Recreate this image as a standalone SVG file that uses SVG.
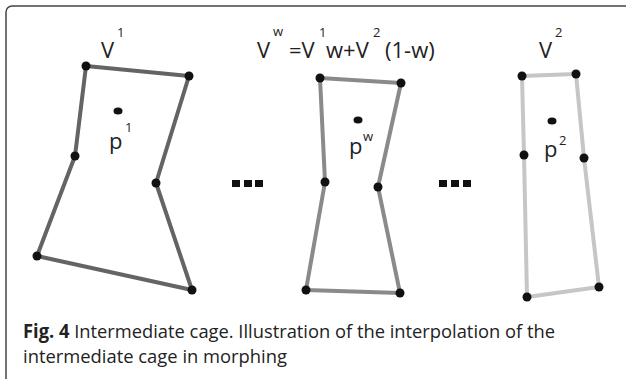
<svg xmlns="http://www.w3.org/2000/svg" width="626" height="379" viewBox="0 0 626 379">
<style>
.lbl{font-family:"Open Sans","Noto Sans",sans-serif;font-size:22px;fill:#222}
.sup{font-family:"Open Sans","Noto Sans",sans-serif;font-size:13px;fill:#222}
.v{fill:#111}
.c1{fill:none;stroke:#646464;stroke-width:4;stroke-linejoin:round}
.cw{fill:none;stroke:#8a8a8a;stroke-width:4;stroke-linejoin:round}
.c2{fill:none;stroke:#c6c6c6;stroke-width:4;stroke-linejoin:round}
.cap{font-family:"Open Sans","Noto Sans",sans-serif;font-size:19px;fill:#222}
</style>
<rect width="626" height="379" fill="#fff"/>
<path d="M6 379 V12 A6 6 0 0 1 12 6 H626" fill="none" stroke="#444" stroke-width="1.5"/>
<g id="connectors">
<polygon class="c1" points="86,66 189,76 156,183 192,290 37,256 75,156"/>
<polygon class="cw" points="320,78 401,83 378,187 400,293 306,290 325,182"/>
<polygon class="c2" points="522,76 576,74 584,158 599,287 527,297 524,155"/>
</g>
<g id="cage1">
<circle class="v" cx="86" cy="66" r="4.5"/>
<circle class="v" cx="189" cy="76" r="4.5"/>
<circle class="v" cx="156" cy="183" r="4.5"/>
<circle class="v" cx="192" cy="290" r="4.5"/>
<circle class="v" cx="37" cy="256" r="4.5"/>
<circle class="v" cx="75" cy="156" r="4.5"/>
<ellipse class="v" cx="118" cy="111" rx="4.5" ry="3.5"/>
<text class="lbl" x="101" y="58">V</text><text class="sup" x="117" y="37">1</text>
<text class="lbl" x="109" y="149">p</text><text class="sup" x="125" y="132">1</text>
</g>
<g id="cageW">
<circle class="v" cx="320" cy="78" r="4.5"/>
<circle class="v" cx="401" cy="83" r="4.5"/>
<circle class="v" cx="378" cy="187" r="4.5"/>
<circle class="v" cx="400" cy="293" r="4.5"/>
<circle class="v" cx="306" cy="290" r="4.5"/>
<circle class="v" cx="325" cy="182" r="4.5"/>
<ellipse class="v" cx="358" cy="120" rx="4.5" ry="3.5"/>
<text class="lbl" x="349" y="154">p</text><text class="sup" x="363" y="141">w</text>
<text class="lbl" x="257" y="58">V</text><text class="sup" x="273" y="36">w</text>
<text class="lbl" x="289" y="58">=V</text><text class="sup" x="319" y="37">1</text>
<text class="lbl" x="326" y="58">w+V</text><text class="sup" x="373" y="37">2</text>
<text class="lbl" x="385" y="58">(1-w)</text>
</g>
<g id="cage2">
<circle class="v" cx="522" cy="76" r="4.5"/>
<circle class="v" cx="576" cy="74" r="4.5"/>
<circle class="v" cx="584" cy="158" r="4.5"/>
<circle class="v" cx="599" cy="287" r="4.5"/>
<circle class="v" cx="527" cy="297" r="4.5"/>
<circle class="v" cx="524" cy="155" r="4.5"/>
<ellipse class="v" cx="552" cy="121" rx="4.5" ry="3.5"/>
<text class="lbl" x="539" y="58">V</text><text class="sup" x="555" y="37">2</text>
<text class="lbl" x="544" y="157">p</text><text class="sup" x="559" y="145">2</text>
</g>
<g id="ellipsis1" fill="#111">
<rect x="232" y="180" width="8" height="7"/><rect x="244" y="180" width="8" height="7"/><rect x="255" y="180" width="8" height="7"/>
</g>
<g id="ellipsis2" fill="#111">
<rect x="439" y="180" width="8" height="7"/><rect x="451" y="180" width="8" height="7"/><rect x="463" y="180" width="8" height="7"/>
</g>
<g id="caption">
<text class="cap" x="23" y="338" textLength="532" lengthAdjust="spacingAndGlyphs"><tspan font-weight="bold">Fig. 4</tspan> Intermediate cage. Illustration of the interpolation of the</text>
<text class="cap" x="23" y="363" textLength="264" lengthAdjust="spacingAndGlyphs">intermediate cage in morphing</text>
</g>
</svg>
